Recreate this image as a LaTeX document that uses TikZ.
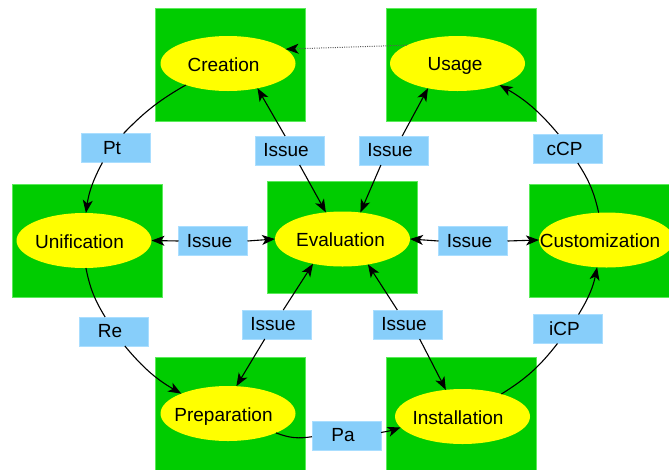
\documentclass[tikz,border=0pt]{standalone}
\usepackage{fontspec}
\setmainfont{Liberation Sans}
\usetikzlibrary{shapes.geometric,arrows.meta}
\definecolor{boxgreen}{RGB}{0,204,0}
\definecolor{boxedge}{RGB}{90,235,90}
\definecolor{ovalyellow}{RGB}{255,255,0}
\definecolor{tagblue}{RGB}{135,206,250}
\definecolor{tagedge}{RGB}{170,222,255}
\definecolor{dotgray}{RGB}{90,90,90}
% oval captions sit slightly left of and below the oval centre
\newcommand\ovaltext[2][9pt]{\raisebox{-1.5pt}{\makebox[0pt]{\kern-#1 #2}}}
\newcommand\tagtext[1]{\kern-7pt #1}

\begin{document}
\begin{tikzpicture}[x=1pt,y=-1pt,
  panel/.style={rectangle, fill=boxgreen, draw=boxedge, line width=0.6pt,
    minimum width=150pt, minimum height=113pt, inner sep=0pt},
  oval/.style={ellipse, fill=ovalyellow, minimum width=135pt, minimum height=55pt,
    inner sep=0pt, outer sep=0pt, text depth=0pt, font=\fontsize{19}{21}\selectfont},
  tag/.style={rectangle, fill=tagblue, draw=tagedge, line width=0.6pt,
    minimum width=69pt, minimum height=29pt, inner sep=0pt, outer sep=0pt,
    font=\fontsize{19}{21}\selectfont},
  link/.style={line width=1.1pt},
  flow/.style={link, -{Stealth[length=13pt,width=10pt,inset=3.5pt]}},
  backflow/.style={line width=1pt, dotgray, dash pattern=on 1pt off 1.3pt,
    -{Stealth[length=13pt,width=10pt,inset=3.5pt,color=black]}},
  ]
\useasboundingbox (0,0) rectangle (669,469);

% green panels
\node[panel] (creBox) at (230,64.5) {};
\node[panel] (useBox) at (461,64.5) {};
\node[panel] (uniBox) at (87.5,240.5) {};
\node[panel, minimum height=112pt] (evaBox) at (342.5,237) {};
\node[panel] (cusBox) at (604,240.5) {};
\node[panel] (preBox) at (230,413.5) {};
\node[panel] (insBox) at (461,413.5) {};

% phase ovals
\node[oval] (cre) at (228,63.5) {\ovaltext{Creation}};
\node[oval] (use) at (457.5,63.5) {\ovaltext[5pt]{Usage}};
\node[oval] (uni) at (84,240.5) {\ovaltext{Unification}};
\node[oval] (eva) at (342.5,239) {\ovaltext[4pt]{Evaluation}};
\node[oval] (cus) at (606.5,240) {\ovaltext[13pt]{Customization}};
\node[oval] (pre) at (228,413.5) {\ovaltext{Preparation}};
\node[oval] (ins) at (462.5,416.5) {\ovaltext{Installation}};

% edge tags
\node[tag] (pt)   at (115.5,148)   {\tagtext{Pt}};
\node[tag] (re)   at (113.5,331.5) {\tagtext{Re}};
\node[tag] (pa)   at (346.5,435.5) {\tagtext{Pa}};
\node[tag] (icp)  at (568,329)     {\tagtext{iCP}};
\node[tag] (ccp)  at (568,148.5)   {\tagtext{cCP}};
\node[tag] (is1)  at (289.5,150.5) {\tagtext{Issue}};
\node[tag] (is2)  at (393.5,150.5) {\tagtext{Issue}};
\node[tag] (isL)  at (213,241)     {\tagtext{Issue}};
\node[tag] (isR)  at (473,241)     {\tagtext{Issue}};
\node[tag] (isBL) at (276.5,324.5) {\tagtext{Issue}};
\node[tag] (isBR) at (407.5,324.5) {\tagtext{Issue}};

% outer life cycle
\draw[link] (cre.207.7) to[bend right=8] (pt.61.8);
\draw[flow] (pt.228.2) to[bend right=10] (uni.86);
\draw[link] (uni.274) to[bend right=10] (re.120.4);
\draw[flow] (re.308.4) to[bend right=10] (pre.157.4);
\draw[link] (pre.338.7) to[bend right=15] (pa.182.5);
\draw[flow] (pa.5.8) to[bend right=5] (ins.190);
\draw[link] (ins.30.7) to[bend right=10] (icp.234.5);
\draw[flow] (icp.54.5) to[bend right=10] (cus.251.3);
\draw[link] (cus.106.9) to[bend right=10] (ccp.304.6);
\draw[flow] (ccp.124.6) to[bend right=10] (use.333);
\draw[backflow] (use.160.6) -- (cre.14.8);

% issue feedback around evaluation
\draw[flow] (is1.107.2) -- (cre.320.4);
\draw[flow] (is1.305.9) -- (eva.122.6);
\draw[flow] (is2.59.6) -- (use.220.8);
\draw[flow] (is2.229.2) -- (eva.56.1);
\draw[flow] (isL.west) -- (uni.east);
\draw[flow] (isL.east) -- (eva.west);
\draw[flow] (isR.west) -- (eva.east);
\draw[flow] (isR.east) -- (cus.west);
\draw[flow] (isBL.65.9) -- (eva.220.3);
\draw[flow] (isBL.231.6) -- (pre.73.2);
\draw[flow] (isBR.125.9) -- (eva.315.5);
\draw[flow] (isBR.310.8) -- (ins.122.9);
\end{tikzpicture}
\end{document}
